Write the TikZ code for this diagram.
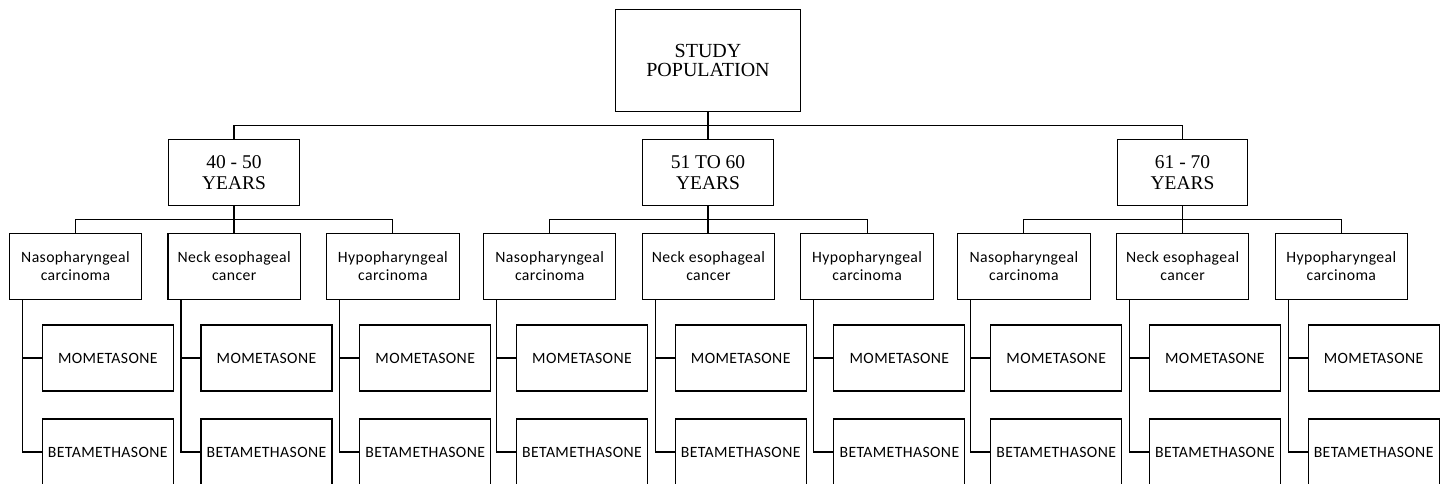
\documentclass[tikz,border=0pt]{standalone}
\usepackage{fontspec}
\setmainfont{Liberation Serif}
\newfontfamily\calfont[LetterSpace=2.5]{Carlito}
\usetikzlibrary{calc}
\begin{document}
\begin{tikzpicture}[x=0.75pt,y=-0.75pt,
  box/.style={draw=black,line width=0.8pt,inner sep=0pt,align=center,rectangle},
  topbox/.style={box,minimum width=138.75pt,minimum height=76.5pt,font=\fontsize{15}{14.6}\selectfont},
  agebox/.style={box,minimum width=97.9pt,minimum height=49.8pt,font=\fontsize{14.6}{16.2}\selectfont},
  disbox/.style={box,minimum width=99.3pt,minimum height=49.3pt,font=\calfont\fontsize{11.8}{13.7}\selectfont},
  trbox/.style={box,minimum width=98.25pt,minimum height=49.5pt,font=\calfont\fontsize{11.8}{13.7}\selectfont},
  conn/.style={draw=black,line width=0.8pt}]
\useasboundingbox (0,0) rectangle (1445,484);
\node[topbox] (top) at (708,60.3) {STUDY\\POPULATION};
\foreach \g/\ax/\atxt in {0/234/{40 - 50},1/708/{51 TO 60},2/1182.5/{61 - 70}}{
  \node[agebox] (a\g) at (\ax,172.5) {\atxt\\YEARS};
  \foreach \k/\dtxt in {0/{Nasopharyngeal\\carcinoma},1/{Neck esophageal\\cancer},2/{Hypopharyngeal\\carcinoma}}{
    \pgfmathsetmacro\L{9.3+\k*158.7+\g*474.2}
    \node[disbox] (d\g\k) at (\L+66.2,266.2) {\dtxt};
    \node[trbox] (m\g\k) at (\L+33+65.5,358) {MOMETASONE};
    \node[trbox] (b\g\k) at (\L+33+65.5,452) {BETAMETHASONE};
    \draw[conn] ($(d\g\k.south west)+(13.5,0)$) |- (m\g\k.west);
    \draw[conn] ($(d\g\k.south west)+(13.5,0)$) |- (b\g\k.west);
  }
  \draw[conn] (d\g0.north) -- ++(0,-13.3) -| (d\g2.north);
  \draw[conn] (a\g.south) -- (a\g.south |- d\g1.north);
}
\draw[conn] (a0.north) -- ++(0,-13.3) -| (a2.north);
\draw[conn] (top.south) -- (a1.north);
\end{tikzpicture}
\end{document}
